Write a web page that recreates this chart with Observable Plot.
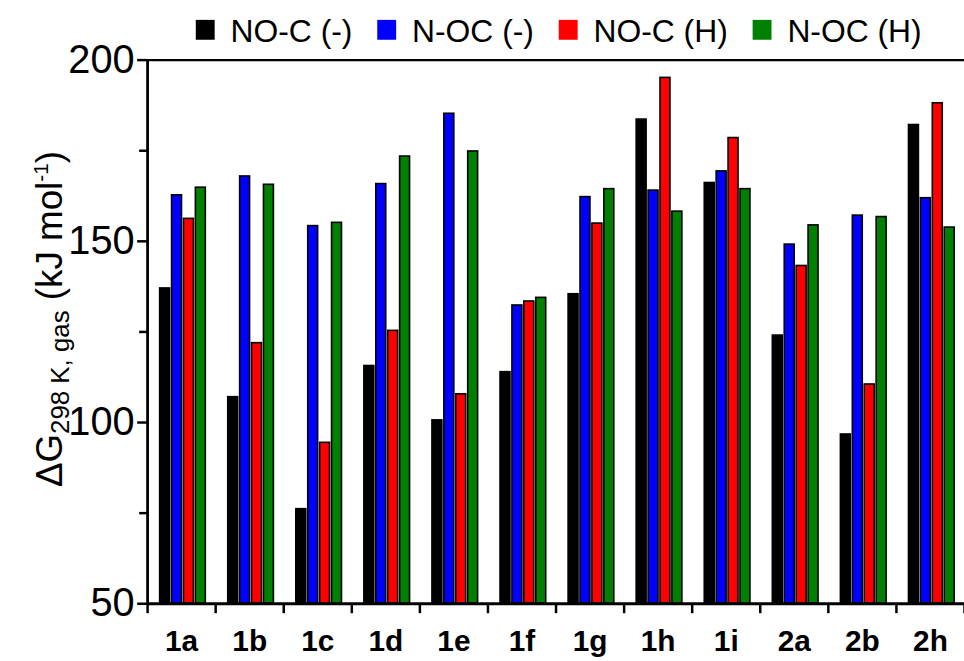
<!DOCTYPE html>
<html>
<head>
<meta charset="utf-8">
<script src="https://cdn.jsdelivr.net/npm/d3@7"></script>
<script src="https://cdn.jsdelivr.net/npm/@observablehq/plot@0.6"></script>
<style>
  html, body { margin: 0; padding: 0; background: #fff; overflow: hidden; width: 964px; height: 661px; }
  #chart { position: relative; width: 964px; height: 661px; overflow: hidden; }
</style>
</head>
<body>
<div id="chart"></div>
<script>
// ---- data ----
const categories = ["1a", "1b", "1c", "1d", "1e", "1f", "1g", "1h", "1i", "2a", "2b", "2h"];
const seriesNames = ["NO-C (-)", "N-OC (-)", "NO-C (H)", "N-OC (H)"];
const seriesColors = ["#000000", "#0000ff", "#ff0000", "#008000"];
const noC_minus = [137.0, 107.0, 76.1, 115.6, 100.6, 113.9, 135.4, 183.6, 166.1, 124.0, 96.7, 182.1];
const nOC_minus = [162.7, 167.9, 154.2, 165.8, 185.2, 132.3, 162.2, 164.0, 169.3, 149.1, 157.1, 161.9];
const noC_H     = [156.2, 121.9, 94.4, 125.3, 107.8, 133.4, 154.9, 195.1, 178.5, 143.2, 110.5, 188.1];
const nOC_H     = [164.8, 165.6, 155.1, 173.4, 174.8, 134.4, 164.4, 158.2, 164.4, 154.4, 156.7, 153.8];
const yMajorTicks = [50, 100, 150, 200];
const yMinorTicks = [75, 125, 175];
const yDomain = [50, 200];

// ---- table built from the arrays ----
const seriesValues = [noC_minus, nOC_minus, noC_H, nOC_H];
const step = 0.175, barW = 0.146, shift = 0.02;
const rows = [];
categories.forEach((c, i) => {
  seriesValues.forEach((vals, k) => {
    const center = i + (k - 1.5) * step + shift;
    rows.push({category: c, series: seriesNames[k], value: vals[i], x1: center - barW / 2, x2: center + barW / 2});
  });
});
const catIndex = categories.map((_, i) => i);
const boundaries = [...categories.map((_, i) => i - 0.5), categories.length - 0.5];

const FONT = "'Liberation Sans', Arial, Helvetica, sans-serif";

const plot = Plot.plot({
  width: 970,
  height: 661,
  marginTop: 60,
  marginBottom: 54,
  marginLeft: 148,
  marginRight: 0,
  style: {fontFamily: FONT, background: "#fff", color: "#000", overflow: "visible"},
  x: {domain: [-0.5, categories.length - 0.5], axis: null},
  y: {domain: yDomain, axis: null},
  color: {domain: seriesNames, range: seriesColors},
  marks: [
    Plot.rectY(rows, {x1: "x1", x2: "x2", y1: yDomain[0], y2: "value", fill: "series", stroke: "#000", strokeWidth: 1.6}),
    Plot.ruleY([yDomain[1]], {stroke: "#000", strokeWidth: 2.2}),
    Plot.ruleY([yDomain[0]], {stroke: "#000", strokeWidth: 2.8}),
    Plot.ruleX([-0.5], {stroke: "#000", strokeWidth: 2.8}),
    Plot.axisY(yMajorTicks, {tickSize: 10, tickPadding: 3, fontSize: 40, strokeWidth: 2.5, label: null, tickFormat: d => String(d)}),
    Plot.axisY(yMinorTicks, {tickSize: 8, strokeWidth: 2.5, label: null, tickFormat: () => ""}),
    Plot.axisX(boundaries, {tickSize: 10, strokeWidth: 2.5, label: null, tickFormat: () => ""}),
    Plot.axisX(catIndex, {tickSize: 0, tickPadding: 26, fontSize: 30, fontWeight: "bold", label: null, tickFormat: i => categories[i]})
  ]
});
document.getElementById("chart").appendChild(plot);

// ---- y-axis title with sub/superscripts ----
const svg = d3.select(plot);
const yTitle = svg.append("text")
  .attr("transform", "translate(62,321) rotate(-90)")
  .attr("text-anchor", "middle")
  .attr("font-family", FONT)
  .attr("font-size", 37)
  .attr("fill", "#000");
yTitle.append("tspan").text("ΔG");
yTitle.append("tspan").attr("font-size", 26).attr("dy", 7).text("298 K, gas");
yTitle.append("tspan").attr("dy", -7).text(" (kJ mol");
yTitle.append("tspan").attr("font-size", 21).attr("dy", -14).text("-1");
yTitle.append("tspan").attr("dy", 14).text(")");

// ---- legend ----
const legend = svg.append("g")
  .attr("font-family", FONT)
  .attr("font-size", 32)
  .attr("text-anchor", "start");
let cursor = 197;
seriesNames.forEach((name, k) => {
  legend.append("rect").attr("x", cursor).attr("y", 20).attr("width", 19).attr("height", 20).attr("fill", seriesColors[k]);
  const t = legend.append("text").attr("x", cursor + 35).attr("y", 42).attr("fill", "#000").text(name);
  cursor += 35 + t.node().getComputedTextLength() + 25;
});
</script>
</body>
</html>
